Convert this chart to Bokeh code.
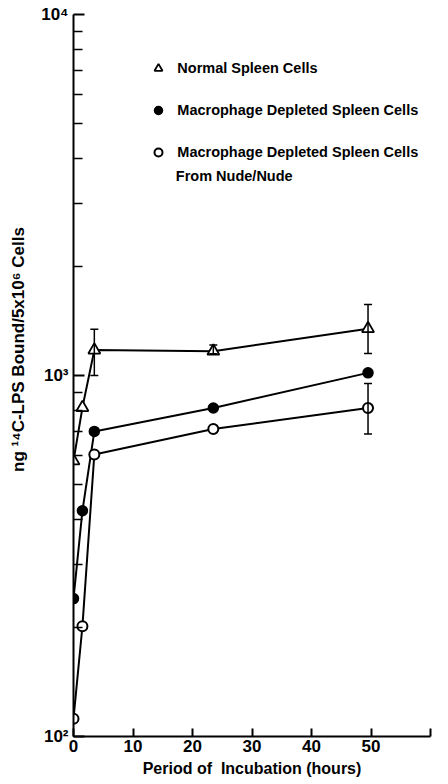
from bokeh.plotting import figure
from bokeh.models import (FixedTicker, Legend, LegendItem, Label, Whisker,
                          ColumnDataSource, Range1d)
from bokeh.embed import file_html
from bokeh.resources import INLINE

# ---- data ----
hours = [0, 1.5, 3.5, 23.5, 49.5]
normal = [580, 815, 1176, 1168, 1348]
depleted = [241, 422, 700, 813, 1017]
nude = [112, 202, 604, 711, 813]

normal_err_x = [3.5, 23.5, 49.5]
normal_err_low = [1000, 1149, 1151]
normal_err_high = [1343, 1214, 1574]
nude_err_x = [49.5]
nude_err_low = [689]
nude_err_high = [950]

x_ticks = [0, 10, 20, 30, 40, 50, 60]
x_tick_labels = ["0", "10", "20", "30", "40", "50", ""]
y_ticks = [100, 1000, 10000]
y_tick_labels = ["10²", "10³", "10⁴"]
y_minor_ticks = [200, 300, 400, 500, 600, 700, 800, 900,
                 2000, 3000, 4000, 5000, 6000, 7000, 8000, 9000]

series_labels = ["Normal Spleen Cells",
                 "Macrophage Depleted Spleen Cells",
                 "Macrophage Depleted Spleen Cells"]
extra_label = "From Nude/Nude"
x_title = "Period of  Incubation (hours)"
y_title = "ng ¹⁴C-LPS Bound/5x10⁶ Cells"

FONT = "Liberation Sans"

p = figure(width=448, height=784, y_axis_type="log",
           x_range=Range1d(0, 60), y_range=Range1d(100, 10000),
           output_backend="svg", toolbar_location=None,
           min_border_left=73, min_border_right=18,
           min_border_top=14, min_border_bottom=48)
p.outline_line_color = None
p.grid.visible = False
p.background_fill_color = "white"

# axes
for ax in (p.xaxis[0], p.yaxis[0]):
    ax.axis_line_width = 2
    ax.axis_line_color = "black"
    ax.major_tick_line_width = 2
    ax.major_tick_line_color = "black"
    ax.major_tick_out = 0
    ax.minor_tick_out = 0
    ax.minor_tick_line_width = 1.5
    ax.minor_tick_line_color = "black"
    ax.major_label_text_font = FONT
    ax.major_label_text_font_style = "bold"
    ax.major_label_text_font_size = "17px"
    ax.major_label_text_color = "black"
    ax.axis_label_text_font = FONT
    ax.axis_label_text_font_style = "bold"
    ax.axis_label_text_font_size = "16px"
    ax.axis_label_text_color = "black"

p.xaxis.ticker = FixedTicker(ticks=x_ticks)
p.xaxis.major_label_overrides = {t: l for t, l in zip(x_ticks, x_tick_labels)}
p.xaxis.major_tick_in = 8
p.xaxis.major_label_standoff = 3
# keep the double space visible (SVG collapses plain runs of spaces)
p.xaxis.axis_label = x_title.replace("  ", " \u00a0")
p.xaxis.axis_label_standoff = 5

p.yaxis.ticker = FixedTicker(ticks=y_ticks, minor_ticks=y_minor_ticks)
p.yaxis.major_label_overrides = {t: l for t, l in zip(y_ticks, y_tick_labels)}
p.yaxis.major_tick_in = 11
p.yaxis.minor_tick_in = 9
p.yaxis.major_label_standoff = 5
p.yaxis.axis_label_text_font_size = "17px"
# leading no-break spaces lift the centred title to where the reference has it
p.yaxis.axis_label = "\u00a0" * 11 + y_title
p.yaxis.axis_label_standoff = 10

# error bars
for ex, lo, hi in ((normal_err_x, normal_err_low, normal_err_high),
                   (nude_err_x, nude_err_low, nude_err_high)):
    src = ColumnDataSource(dict(base=ex, lower=lo, upper=hi))
    w = Whisker(source=src, base="base", lower="lower", upper="upper",
                line_color="black", line_width=1.5, level="glyph")
    w.upper_head.size = 8
    w.lower_head.size = 8
    w.upper_head.line_width = 1.5
    w.lower_head.line_width = 1.5
    p.add_layout(w)

# lines
p.line(hours, normal, line_color="black", line_width=2)
p.line(hours, depleted, line_color="black", line_width=2)
p.line(hours, nude, line_color="black", line_width=2)

# markers
r_norm = p.scatter(hours, normal, marker="triangle", size=12,
                   fill_color="white", line_color="black", line_width=1.8)
r_dep = p.scatter(hours, depleted, marker="circle", size=10,
                  fill_color="black", line_color="black", line_width=1.5)
r_nude = p.scatter(hours, nude, marker="circle", size=10,
                   fill_color="white", line_color="black", line_width=2)

legend = Legend(items=[LegendItem(label=series_labels[0], renderers=[r_norm]),
                       LegendItem(label=series_labels[1], renderers=[r_dep]),
                       LegendItem(label=series_labels[2], renderers=[r_nude])],
                location=(75.3, 574.5), padding=0, margin=0,
                border_line_color=None, background_fill_alpha=0,
                glyph_width=20, glyph_height=20, label_height=20,
                spacing=22, label_standoff=9,
                label_text_font=FONT, label_text_font_size="14.5px",
                label_text_font_style="bold", label_text_color="black")
p.add_layout(legend)

p.add_layout(Label(x=17.2, y=3560, text=extra_label, text_font=FONT,
                   text_font_size="14.5px", text_font_style="bold",
                   text_baseline="middle", text_align="left",
                   text_color="black"))

open("out.html", "w").write(file_html(p, INLINE))
